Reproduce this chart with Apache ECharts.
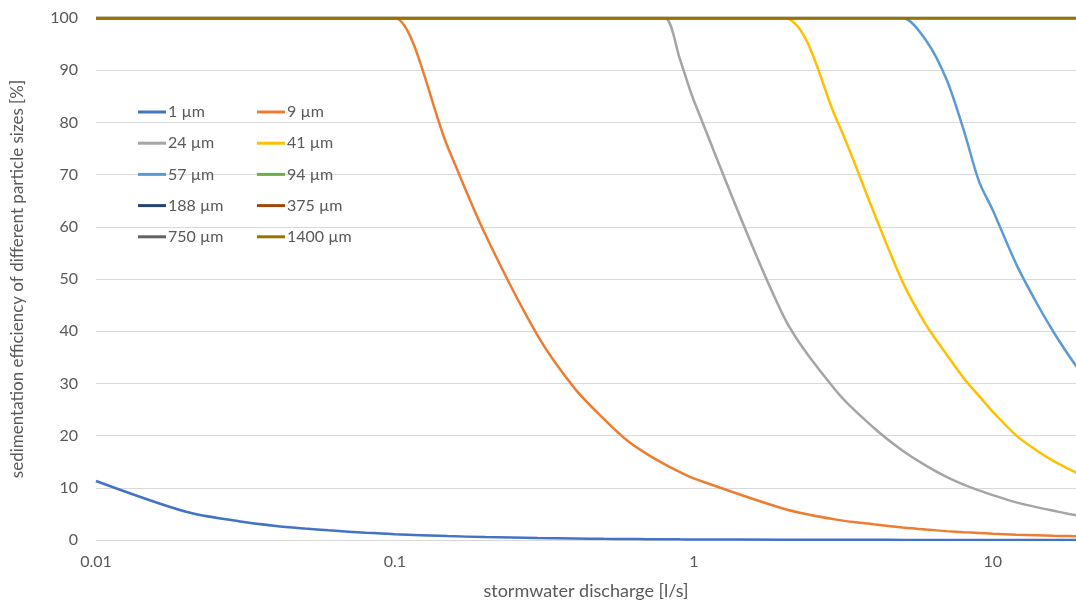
<!DOCTYPE html>
<html>
<head>
<meta charset="utf-8">
<script src="https://cdn.jsdelivr.net/npm/echarts@6/dist/echarts.min.js"></script>
<style>
html,body{margin:0;padding:0;background:#fff;}
#chart{width:1076px;height:605px;}
</style>
</head>
<body>
<div id="chart"></div>
<script>
// stormwater discharge [l/s]
const discharge = [0.01,0.02,0.03,0.04,0.05,0.06,0.07,0.08,0.09,0.1,0.15,0.2,0.3,0.4,0.5,0.6,0.7,0.8,0.9,1,2,3,4,5,6,7,8,9,10,12,14,16,18,20];

// sedimentation efficiency [%] per particle size
const eff1   = [11.3,5.4,3.6,2.7,2.2,1.85,1.6,1.4,1.25,1.12,0.75,0.56,0.37,0.28,0.22,0.19,0.16,0.14,0.12,0.11,0.06,0.04,0.03,0.02,0.02,0.02,0.01,0.01,0.01,0.01,0.01,0.01,0.01,0.01];
const eff9   = [100,100,100,100,100,100,100,100,100,100,75.4,58.7,39.2,29,23.2,19,16.4,14.5,13,11.8,6.0,3.9,3.0,2.4,2.0,1.7,1.5,1.35,1.2,1.0,0.9,0.8,0.75,0.7];
const eff24  = [100,100,100,100,100,100,100,100,100,100,100,100,100,100,100,100,100,100,92,84.2,42.8,28.5,21.5,17.1,14.2,12.1,10.6,9.5,8.6,7.2,6.3,5.6,5.0,4.5];
const eff41  = [100,100,100,100,100,100,100,100,100,100,100,100,100,100,100,100,100,100,100,100,100,80.6,62.8,49.4,41.1,35.6,31.0,27.6,24.6,20.0,17.2,15.1,13.6,12.3];
const eff57  = [100,100,100,100,100,100,100,100,100,100,100,100,100,100,100,100,100,100,100,100,100,100,100,100,95.6,88.3,78.5,68.7,63.2,52.8,45.5,39.8,35.3,31.6];
const eff94  = [100,100,100,100,100,100,100,100,100,100,100,100,100,100,100,100,100,100,100,100,100,100,100,100,100,100,100,100,100,100,100,100,100,100];
const eff188 = [100,100,100,100,100,100,100,100,100,100,100,100,100,100,100,100,100,100,100,100,100,100,100,100,100,100,100,100,100,100,100,100,100,100];
const eff375 = [100,100,100,100,100,100,100,100,100,100,100,100,100,100,100,100,100,100,100,100,100,100,100,100,100,100,100,100,100,100,100,100,100,100];
const eff750 = [100,100,100,100,100,100,100,100,100,100,100,100,100,100,100,100,100,100,100,100,100,100,100,100,100,100,100,100,100,100,100,100,100,100];
const eff1400= [100,100,100,100,100,100,100,100,100,100,100,100,100,100,100,100,100,100,100,100,100,100,100,100,100,100,100,100,100,100,100,100,100,100];

const seriesNames = ['1 µm','9 µm','24 µm','41 µm','57 µm','94 µm','188 µm','375 µm','750 µm','1400 µm'];
const seriesValues = [eff1,eff9,eff24,eff41,eff57,eff94,eff188,eff375,eff750,eff1400];
const seriesColors = ['#4472C4','#ED7D31','#A5A5A5','#FFC000','#5B9BD5','#70AD47','#264478','#9E480E','#636363','#997300'];

const xTickLabels = ['0.01','0.1','1','10'];
const yTicks = [0,10,20,30,40,50,60,70,80,90,100];

const FONT = 'Lato, "Open Sans", sans-serif';
const TXT = '#595959';

const chart = echarts.init(document.getElementById('chart'), null, {renderer:'canvas'});

const legendCommon = {
  orient: 'vertical',
  padding: 0,
  itemWidth: 28,
  itemHeight: 3,
  itemGap: 11.2,
  icon: 'rect',
  textStyle: {color: TXT, fontSize: 16, fontFamily: FONT, padding: [0,0,0,-3], lineHeight: 20}
};

chart.setOption({
  animation: false,
  backgroundColor: '#fff',
  grid: {left: 96, right: 0, top: 18, bottom: 62, containLabel: false},
  legend: [
    Object.assign({}, legendCommon, {left: 138, top: 102, data: [seriesNames[0],seriesNames[2],seriesNames[4],seriesNames[6],seriesNames[8]]}),
    Object.assign({}, legendCommon, {left: 257, top: 102, data: [seriesNames[1],seriesNames[3],seriesNames[5],seriesNames[7],seriesNames[9]]})
  ],
  xAxis: {
    type: 'log',
    logBase: 10,
    min: 0.01,
    max: 19,
    name: 'stormwater discharge [l/s]',
    nameLocation: 'middle',
    nameGap: 42,
    nameTextStyle: {color: TXT, fontSize: 18, fontFamily: FONT},
    axisLine: {show: false},
    axisTick: {show: false},
    splitLine: {show: false},
    axisLabel: {
      color: TXT, fontSize: 16, fontFamily: FONT, margin: 14,
      showMaxLabel: false,
      formatter: function (v) {
        const s = String(+v.toPrecision(6));
        return xTickLabels.indexOf(s) >= 0 ? s : '';
      }
    }
  },
  yAxis: {
    type: 'value',
    min: yTicks[0],
    max: yTicks[yTicks.length-1],
    interval: 10,
    name: 'sedimentation efficiency of different particle sizes [%]',
    nameLocation: 'middle',
    nameGap: 70,
    nameTextStyle: {color: TXT, fontSize: 17, fontFamily: FONT},
    axisLine: {show: false},
    axisTick: {show: false},
    splitLine: {lineStyle: {color: '#D9D9D9', width: 1}},
    axisLabel: {color: TXT, fontSize: 16, fontFamily: FONT, margin: 18}
  },
  series: seriesNames.map((n, i) => ({
    name: n,
    type: 'line',
    smooth: 0.3,
    showSymbol: false,
    symbol: 'none',
    color: seriesColors[i],
    lineStyle: {width: 2.5, color: seriesColors[i]},
    data: discharge.map((q, k) => [q, seriesValues[i][k]])
  }))
});
</script>
</body>
</html>
